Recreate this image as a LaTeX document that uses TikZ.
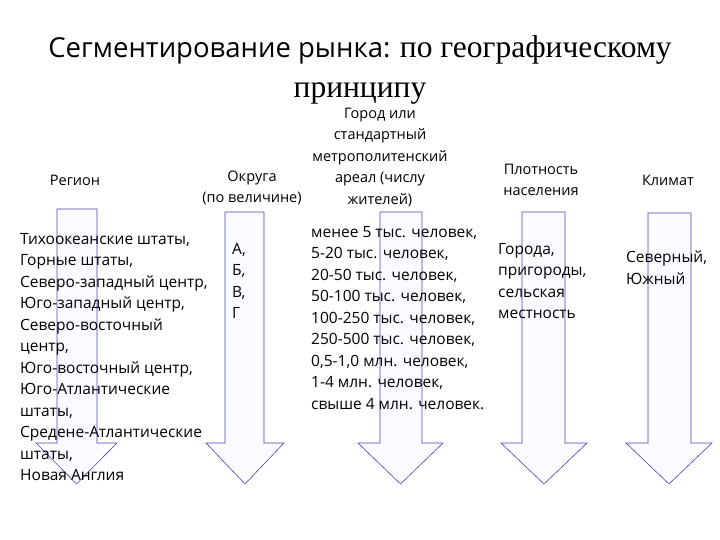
\documentclass[tikz,border=0pt]{standalone}
\usepackage{fontspec}
\setmainfont{Open Sans}
\newfontfamily\serifru{Liberation Serif}
\begin{document}
\begin{tikzpicture}[x=1pt,y=-1pt,
  arr/.style={draw=blue!45!gray, fill=blue!2, line width=0.6pt},
  body/.style={anchor=north west, align=left, font=\fontsize{15.5}{21.5}\selectfont, inner sep=0pt},
  head/.style={align=center, font=\fontsize{14.5}{21.5}\selectfont, inner sep=0pt}]
\useasboundingbox (0,0) rectangle (720,540);
\def\downarrow#1#2#3#4#5#6{% shaft left, shaft right, head left, head right, top, headstart
  \path[arr] (#1,#5) -- (#2,#5) -- (#2,#6) -- (#4,#6) -- ({(#3+#4)/2},484) -- (#3,#6) -- (#1,#6) -- cycle;}
\downarrow{57}{97}{36}{117}{209}{443}
\downarrow{225}{264}{206}{284}{212}{443}
\downarrow{380}{422}{358}{443}{212}{443}
\downarrow{522}{565}{501}{587}{212}{443}
\downarrow{648}{691}{626}{712}{213}{443}
\node[inner sep=0pt, font=\fontsize{27.5}{40}\selectfont, align=center] (title) at (360,70)
  {Сегментирование рынка: {\serifru\fontsize{31.5}{40}\selectfont по географическому}\\{\serifru\fontsize{31.5}{40}\selectfont принципу}};
\node[head] (h1) at (75,180) {Регион};
\node[head] (h2) at (252,188) {Округа\\(по величине)};
\node[head] (h3) at (380,157) {Город или\\стандартный\\метрополитенский\\ареал (числу\\жителей)};
\node[head] (h4) at (541,180) {Плотность\\населения};
\node[head] (h5) at (668,180) {Климат};
\node[body] (t1) at (20,233) {Тихоокеанские штаты,\\Горные штаты,\\Северо-западный центр,\\Юго-западный центр,\\Северо-восточный\\центр,\\Юго-восточный центр,\\Юго-Атлантические\\штаты,\\Средене-Атлантические\\штаты,\\Новая Англия};
\node[body] (t2) at (232,243) {А,\\Б,\\В,\\Г};
\node[body] (t3) at (311,226) {менее 5 тыс. человек,\\5-20 тыс. человек,\\20-50 тыс. человек,\\50-100 тыс. человек,\\100-250 тыс. человек,\\250-500 тыс. человек,\\0,5-1,0 млн. человек,\\1-4 млн. человек,\\свыше 4 млн. человек.};
\node[body] (t4) at (498,243) {Города,\\пригороды,\\сельская\\местность};
\node[body] (t5) at (626,251) {Северный,\\Южный};
\end{tikzpicture}
\end{document}
